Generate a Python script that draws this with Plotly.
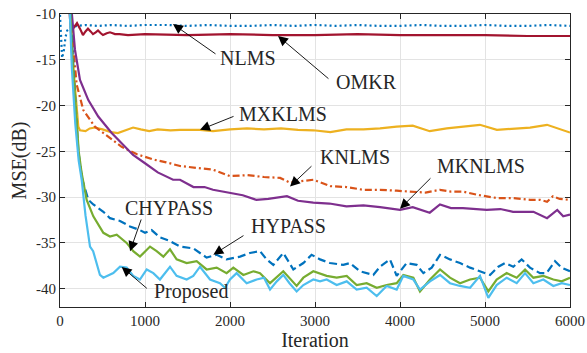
import plotly.graph_objects as go

# ---------------- data ----------------
nlms_it = [0, 25, 45, 65, 85, 120, 200, 300, 450, 600, 800, 1000, 1250, 1500, 1750, 2000, 2250,
           2500, 2750, 3000, 3250, 3500, 3750, 4000, 4250, 4500, 4750, 5000, 5250, 5500, 5750, 6000]
nlms_mse = [-10.1, -14.8, -14.0, -12.5, -11.8, -11.5, -11.3, -11.2, -11.3, -11.2, -11.3, -11.2, -11.2,
            -11.3, -11.2, -11.3, -11.3, -11.2, -11.3, -11.2, -11.3, -11.2, -11.3, -11.3, -11.2,
            -11.3, -11.3, -11.2, -11.3, -11.3, -11.2, -11.3]

omkr_it = [0, 100, 130, 160, 200, 235, 270, 300, 329, 360, 388, 420, 447, 480, 506, 550, 588, 620,
           647, 700, 800, 1000, 1500, 2000, 2500, 3000, 3500, 4000, 4500, 5000, 5500, 6000]
omkr_mse = [5.0, -8.0, -12.1, -11.5, -11.0, -11.6, -12.3, -11.9, -11.6, -11.9, -12.2, -12.0, -11.8,
            -12.1, -12.3, -12.1, -12.0, -12.1, -12.2, -12.2, -12.3, -12.2, -12.3, -12.2, -12.3,
            -12.3, -12.2, -12.3, -12.3, -12.3, -12.4, -12.4]

mxklms_it = [0, 100, 150, 190, 215, 235, 300, 350, 410, 500, 600, 680, 760, 860, 950, 1050, 1150,
             1300, 1412, 1647, 1800, 2000, 2200, 2400, 2600, 2800, 2980, 3180, 3370, 3570, 3765,
             3960, 4150, 4350, 4550, 4740, 4940, 5140, 5330, 5530, 5730, 5850, 6000]
mxklms_mse = [10.0, -5.0, -15.0, -20.0, -22.3, -22.7, -22.8, -22.5, -22.4, -22.6, -22.9, -23.0,
              -22.7, -22.4, -22.6, -22.8, -22.6, -22.7, -22.65, -22.65, -22.8, -22.6, -22.5,
              -22.6, -22.5, -22.65, -22.7, -22.9, -22.6, -22.6, -22.5, -22.3, -22.2, -22.8,
              -22.5, -22.3, -22.1, -22.65, -22.5, -22.4, -22.1, -22.5, -22.95]

knlms_it = [0, 100, 150, 196, 274, 410, 565, 725, 900, 1100, 1250, 1412, 1600, 1800, 2000, 2200,
            2400, 2590, 2700, 2800, 2980, 3180, 3370, 3570, 3765, 3960, 4150, 4300, 4470, 4600,
            4740, 4940, 5140, 5330, 5530, 5650, 5730, 5800, 5880, 6000]
knlms_mse = [10.0, -5.0, -13.0, -17.7, -20.5, -22.3, -23.4, -24.5, -25.3, -25.9, -26.2, -26.6,
             -26.8, -27.0, -27.7, -27.6, -27.8, -27.9, -28.4, -28.3, -28.1, -28.8, -28.9, -29.2,
             -29.2, -29.3, -29.4, -29.5, -29.2, -29.4, -29.4, -29.8, -30.1, -30.1, -30.3, -30.3,
             -30.5, -29.9, -30.2, -30.3]

mknlms_it = [0, 100, 140, 176, 235, 333, 450, 608, 860, 1000, 1150, 1330, 1412, 1570, 1700, 1800,
             2000, 2150, 2310, 2450, 2670, 2800, 2980, 3170, 3370, 3570, 3765, 4000, 4150, 4350,
             4470, 4600, 4740, 5020, 5180, 5330, 5570, 5730, 5850, 5920, 6000]
mknlms_mse = [10.0, -5.0, -10.0, -13.9, -17.2, -19.4, -21.2, -23.0, -25.4, -26.3, -27.3, -28.1,
              -28.1, -28.9, -28.9, -29.2, -29.5, -29.8, -30.3, -30.2, -29.9, -30.4, -30.6, -30.7,
              -31.0, -30.9, -31.1, -31.4, -31.1, -31.7, -30.8, -31.2, -31.2, -31.4, -31.3, -31.6,
              -31.6, -32.3, -31.4, -32.1, -31.9]

hypass_it = [0, 100, 140, 180, 216, 260, 333, 392, 510, 588, 706, 823, 940, 1000, 1078, 1176, 1294,
             1412, 1568, 1725, 1843, 1960, 2118, 2235, 2353, 2430, 2510, 2627, 2745, 2863, 2960,
             3059, 3176, 3333, 3412, 3529, 3686, 3765, 3882, 3961, 4078, 4196, 4275, 4373, 4471,
             4588, 4706, 4824, 4941, 5059, 5157, 5235, 5333, 5431, 5529, 5647, 5725, 5824, 5902, 6000]
hypass_mse = [10.0, -5.0, -13.0, -20.0, -25.0, -28.0, -30.3, -30.8, -31.6, -32.3, -32.6, -33.2,
              -33.6, -33.9, -33.6, -34.4, -34.8, -35.4, -35.6, -36.6, -36.3, -36.8, -36.5, -36.1,
              -35.9, -36.8, -37.4, -36.1, -37.9, -37.2, -36.3, -36.8, -37.2, -37.4, -37.2, -38.1,
              -38.5, -37.6, -36.8, -38.6, -37.2, -37.4, -38.3, -37.7, -36.3, -36.8, -37.2, -37.7,
              -38.1, -38.5, -37.6, -37.2, -37.6, -36.8, -37.7, -38.3, -38.3, -37.0, -37.7, -38.1]

chypass_it = [0, 100, 140, 180, 220, 255, 314, 392, 450, 510, 588, 667, 784, 862, 941, 1059, 1137,
              1216, 1294, 1372, 1490, 1608, 1725, 1843, 1960, 2039, 2157, 2275, 2353, 2471, 2627,
              2784, 2863, 2980, 3137, 3255, 3373, 3490, 3608, 3726, 3843, 3961, 4039, 4157, 4235,
              4353, 4471, 4588, 4706, 4824, 4941, 5039, 5137, 5255, 5373, 5471, 5569, 5686, 5804,
              5902, 6000]
chypass_mse = [10.0, -5.0, -14.0, -20.0, -25.0, -27.4, -30.3, -32.1, -33.0, -33.9, -34.3, -34.1,
               -35.0, -35.9, -36.5, -35.4, -35.9, -36.5, -35.7, -36.8, -37.2, -37.0, -37.9, -37.7,
               -38.3, -37.7, -38.5, -38.1, -38.3, -39.4, -38.1, -39.7, -38.8, -38.1, -38.6, -38.8,
               -38.6, -39.6, -39.4, -39.9, -39.6, -39.4, -38.5, -38.8, -40.3, -39.0, -37.9, -38.8,
               -39.4, -39.0, -38.8, -40.3, -39.0, -38.3, -38.8, -37.9, -38.8, -38.6, -39.0, -39.2,
               -38.8]

proposed_it = [0, 100, 140, 180, 220, 255, 300, 353, 390, 470, 510, 560, 627, 706, 784, 862, 940,
               1020, 1098, 1176, 1294, 1372, 1490, 1568, 1647, 1765, 1882, 1941, 2000, 2078, 2196,
               2314, 2400, 2471, 2550, 2627, 2700, 2784, 2863, 2980, 3059, 3137, 3255, 3373, 3490,
               3608, 3726, 3843, 3961, 4039, 4157, 4235, 4353, 4471, 4588, 4706, 4824, 4941, 5039,
               5137, 5255, 5373, 5471, 5569, 5686, 5804, 5902, 6000]
proposed_mse = [10.0, -6.0, -16.0, -22.0, -26.0, -28.1, -32.0, -35.4, -35.9, -38.5, -38.8, -38.6,
                -38.3, -37.6, -37.7, -38.6, -39.0, -37.9, -38.3, -39.0, -37.6, -38.6, -39.0, -38.6,
                -37.6, -39.0, -39.4, -39.9, -39.0, -38.3, -39.4, -39.0, -38.8, -40.1, -39.2, -38.5,
                -39.4, -40.3, -39.6, -39.0, -39.2, -39.0, -39.6, -39.2, -40.1, -39.9, -40.8, -39.7,
                -40.1, -38.6, -39.0, -40.1, -39.2, -38.5, -39.4, -39.7, -39.9, -38.6, -41.0, -39.6,
                -38.8, -39.4, -38.3, -39.4, -39.0, -39.7, -39.4, -39.6]

x_ticks = [0, 1000, 2000, 3000, 4000, 5000, 6000]
x_tick_labels = ["0", "1000", "2000", "3000", "4000", "5000", "6000"]
y_ticks = [-10, -15, -20, -25, -30, -35, -40]
y_tick_labels = ["-10", "-15", "-20", "-25", "-30", "-35", "-40"]

# label text, text position, arrow tail, arrow tip (data coordinates)
labels = [
    ("NLMS",     2212, -14.8,  1847, -14.47, 1329, -11.1),
    ("OMKR",     3606, -17.42, 3176, -17.2,  2565, -12.4),
    ("MXKLMS",   2624, -20.9,  2059, -21.12, 1647, -22.65),
    ("KNLMS",    3471, -25.6,  2976, -26.47, 2706, -28.83),
    ("MKNLMS",   4953, -26.65, 4376, -27.78, 4000, -31.27),
    ("CHYPASS",  1282, -31.15, 961,  -32.28, 824,  -35.92),
    ("HYPASS",   2688, -33.15, 2176, -34.1,  1804, -36.28),
    ("Proposed", 1541, -40.35, 1039, -40.1,  726,  -37.62),
]

# ---------------- figure ----------------
FONT = "Liberation Serif, Times New Roman, serif"
series = [
    ("NLMS", nlms_it, nlms_mse, "#0072BD", "2px,3px"),
    ("OMKR", omkr_it, omkr_mse, "#A2142F", "solid"),
    ("MXKLMS", mxklms_it, mxklms_mse, "#EDB120", "solid"),
    ("KNLMS", knlms_it, knlms_mse, "#D95319", "7px,3px,2px,3px"),
    ("MKNLMS", mknlms_it, mknlms_mse, "#7E2F8E", "solid"),
    ("HYPASS", hypass_it, hypass_mse, "#0072BD", "8px,4px"),
    ("CHYPASS", chypass_it, chypass_mse, "#77AC30", "solid"),
    ("Proposed", proposed_it, proposed_mse, "#4DBEEE", "solid"),
]

fig = go.Figure()
for name, xs, ys, col, dash in series:
    fig.add_trace(go.Scatter(x=xs, y=ys, mode="lines", name=name,
                             line=dict(color=col, width=2.2, dash=dash)))

for text, tx, ty, ax0, ay0, px, py in labels:
    fig.add_annotation(x=px, y=py, ax=ax0, ay=ay0, xref="x", yref="y", axref="x", ayref="y",
                       text="", showarrow=True, arrowhead=2, arrowsize=2.2, arrowwidth=0.9,
                       arrowcolor="#000000", standoff=0, startstandoff=0)
    fig.add_annotation(x=tx, y=ty, xref="x", yref="y", text=text, showarrow=False,
                       font=dict(family=FONT, size=20, color="#262626"))

axis_common = dict(showline=True, linecolor="#262626", linewidth=1, mirror="ticks",
                   ticks="inside", ticklen=5, tickcolor="#262626", tickwidth=1,
                   showgrid=True, gridcolor="#E3E3E3", gridwidth=1, zeroline=False,
                   ticklabeloverflow="allow",
                   tickfont=dict(family=FONT, size=15, color="#262626"))

fig.update_xaxes(range=[0, 6000], tickvals=x_ticks, ticktext=x_tick_labels,
                 title=dict(text="Iteration", font=dict(family=FONT, size=20, color="#262626"),
                            standoff=2),
                 **axis_common)
fig.update_yaxes(range=[-42, -10], tickvals=y_ticks, ticktext=y_tick_labels,
                 title=dict(text="MSE(dB)", font=dict(family=FONT, size=20, color="#262626"),
                            standoff=4),
                 **axis_common)

fig.update_layout(width=587, height=353, showlegend=False,
                  margin=dict(l=60, r=17, t=14, b=46, autoexpand=False),
                  plot_bgcolor="#FFFFFF", paper_bgcolor="#FFFFFF",
                  font=dict(family=FONT, color="#262626"))

# remove the default page margin so the figure fills the window exactly
fig.write_html("out.html", config={"displayModeBar": False},
               post_script="document.body.style.margin='0px';document.body.style.padding='0px';")
